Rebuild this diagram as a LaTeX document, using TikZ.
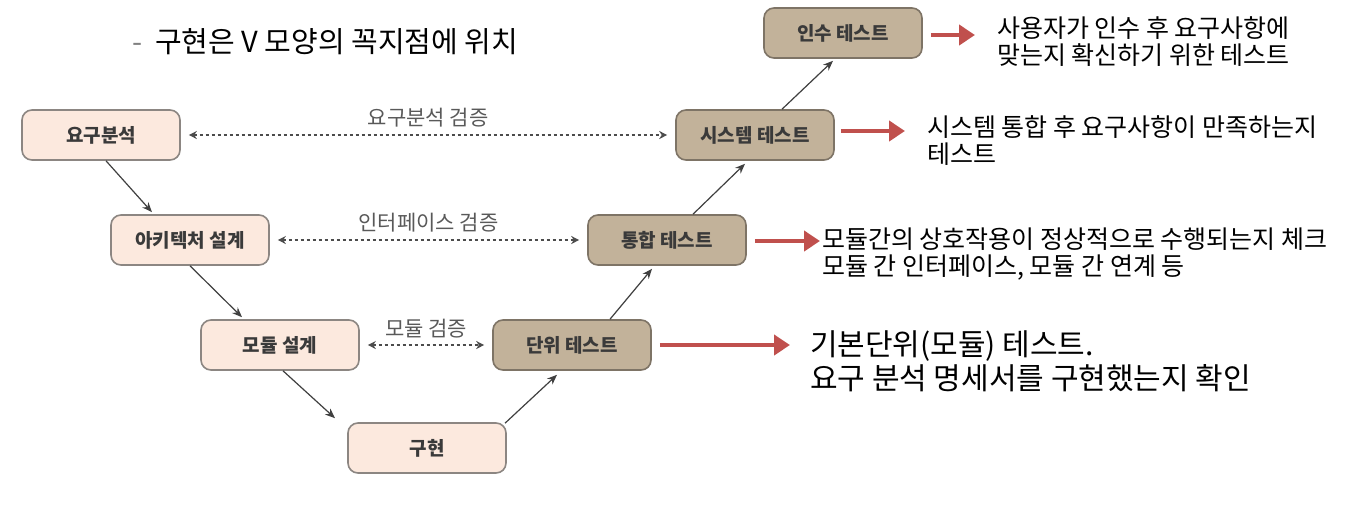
\documentclass[tikz,border=0pt]{standalone}
\usepackage{fontspec}
\setmainfont{Noto Sans CJK KR}
\usetikzlibrary{arrows.meta,calc}
\definecolor{lightfill}{HTML}{FCE9DE}
\definecolor{lightdraw}{HTML}{8C8682}
\definecolor{darkfill}{HTML}{C2B29A}
\definecolor{darkdraw}{HTML}{7E7466}
\definecolor{redarrow}{HTML}{C0504D}
\definecolor{boxtext}{HTML}{3A3A3A}
\begin{document}
\begin{tikzpicture}[x=0.5pt,y=-0.5pt,
  phase/.style={rounded corners=5pt, minimum width=79pt, minimum height=25pt, line width=0.8pt, font=\fontsize{9.5}{11}\selectfont\bfseries, text=boxtext},
  lightbox/.style={phase, fill=lightfill, draw=lightdraw},
  darkbox/.style={phase, fill=darkfill, draw=darkdraw},
  flow/.style={-{Stealth[length=5pt,width=4pt]}, draw=black!75, line width=0.6pt},
  verify/.style={{Stealth[length=4pt,width=4pt]}-{Stealth[length=4pt,width=4pt]}, draw=black!70, line width=0.7pt, dash pattern=on 1.5pt off 1.5pt},
  vlabel/.style={font=\fontsize{10.5}{12}\selectfont, text=black!65},
  redarr/.style={-{Triangle[length=8pt,width=10pt]}, draw=redarrow, line width=2.2pt},
  desc/.style={align=left, anchor=west, font=\fontsize{12.5}{13.5}\selectfont, text=black},
  descbig/.style={align=left, anchor=west, font=\fontsize{15}{17}\selectfont, text=black}
]
\useasboundingbox (0,0) rectangle (1358,504);
\fill[white] (0,0) rectangle (1358,504);

\node[anchor=west, font=\fontsize{14.5}{17}\selectfont] (title) at (125,42) {{\color{black!50}-}\ \ 구현은 V 모양의 꼭지점에 위치};

\node[lightbox] (req) at (101,135) {요구분석};
\node[lightbox] (arch) at (190,240) {아키텍처 설계};
\node[lightbox] (mod) at (280,345) {모듈 설계};
\node[lightbox] (impl) at (427,448) {구현};
\node[darkbox] (unit) at (572,345) {단위 테스트};
\node[darkbox] (integ) at (667,240) {통합 테스트};
\node[darkbox] (sys) at (755,135) {시스템 테스트};
\node[darkbox] (acc) at (843,33) {인수 테스트};

\draw[flow] ($(req.south)+(5,0)$) -- ($(arch.north)+(-38,-2)$);
\draw[flow] (arch.south) -- ($(mod.north)+(-38,-2)$);
\draw[flow] ($(mod.south)+(3,0)$) -- ($(impl.north)+(-92,-4)$);
\draw[flow] ($(impl.north)+(78,1)$) -- ($(unit.south)+(-15,4)$);
\draw[flow] ($(unit.north)+(38,0)$) -- ($(integ.south)+(-15,3)$);
\draw[flow] ($(integ.north)+(26,0)$) -- ($(sys.south)+(-10,3)$);
\draw[flow] ($(sys.north)+(27,0)$) -- ($(acc.south)+(-10,2)$);

\draw[verify] ($(req.east)+(8,0)$) -- ($(sys.west)+(-8,0)$) node[midway, above=0pt, vlabel] (l1) {요구분석 검증};
\draw[verify] ($(arch.east)+(8,0)$) -- ($(integ.west)+(-8,0)$) node[midway, above=0pt, vlabel] (l2) {인터페이스 검증};
\draw[verify] ($(mod.east)+(8,0)$) -- ($(unit.west)+(-8,0)$) node[midway, above=0pt, vlabel] (l3) {모듈 검증};

\node[desc] (dacc) at (990,42) {사용자가 인수 후 요구사항에\\맞는지 확신하기 위한 테스트};
\node[desc] (dsys) at (920,141) {시스템 통합 후 요구사항이 만족하는지\\테스트};
\node[desc] (dint) at (815,254) {모듈간의 상호작용이 정상적으로 수행되는지 체크\\모듈 간 인터페이스, 모듈 간 연계 등};
\node[descbig] (dunit) at (803,361) {기본단위(모듈) 테스트.\\요구 분석 명세서를 구현했는지 확인};

\coordinate (ea) at (975,35);
\coordinate (es) at (905,131);
\coordinate (ei) at (820,241);
\coordinate (eu) at (790,345);
\draw[redarr] ($(acc.east)+(8,2)$) -- (ea);
\draw[redarr] ($(sys.east)+(6,-4)$) -- (es);
\draw[redarr] ($(integ.east)+(8,1)$) -- (ei);
\draw[redarr] ($(unit.east)+(8,0)$) -- (eu);
\end{tikzpicture}
\end{document}
